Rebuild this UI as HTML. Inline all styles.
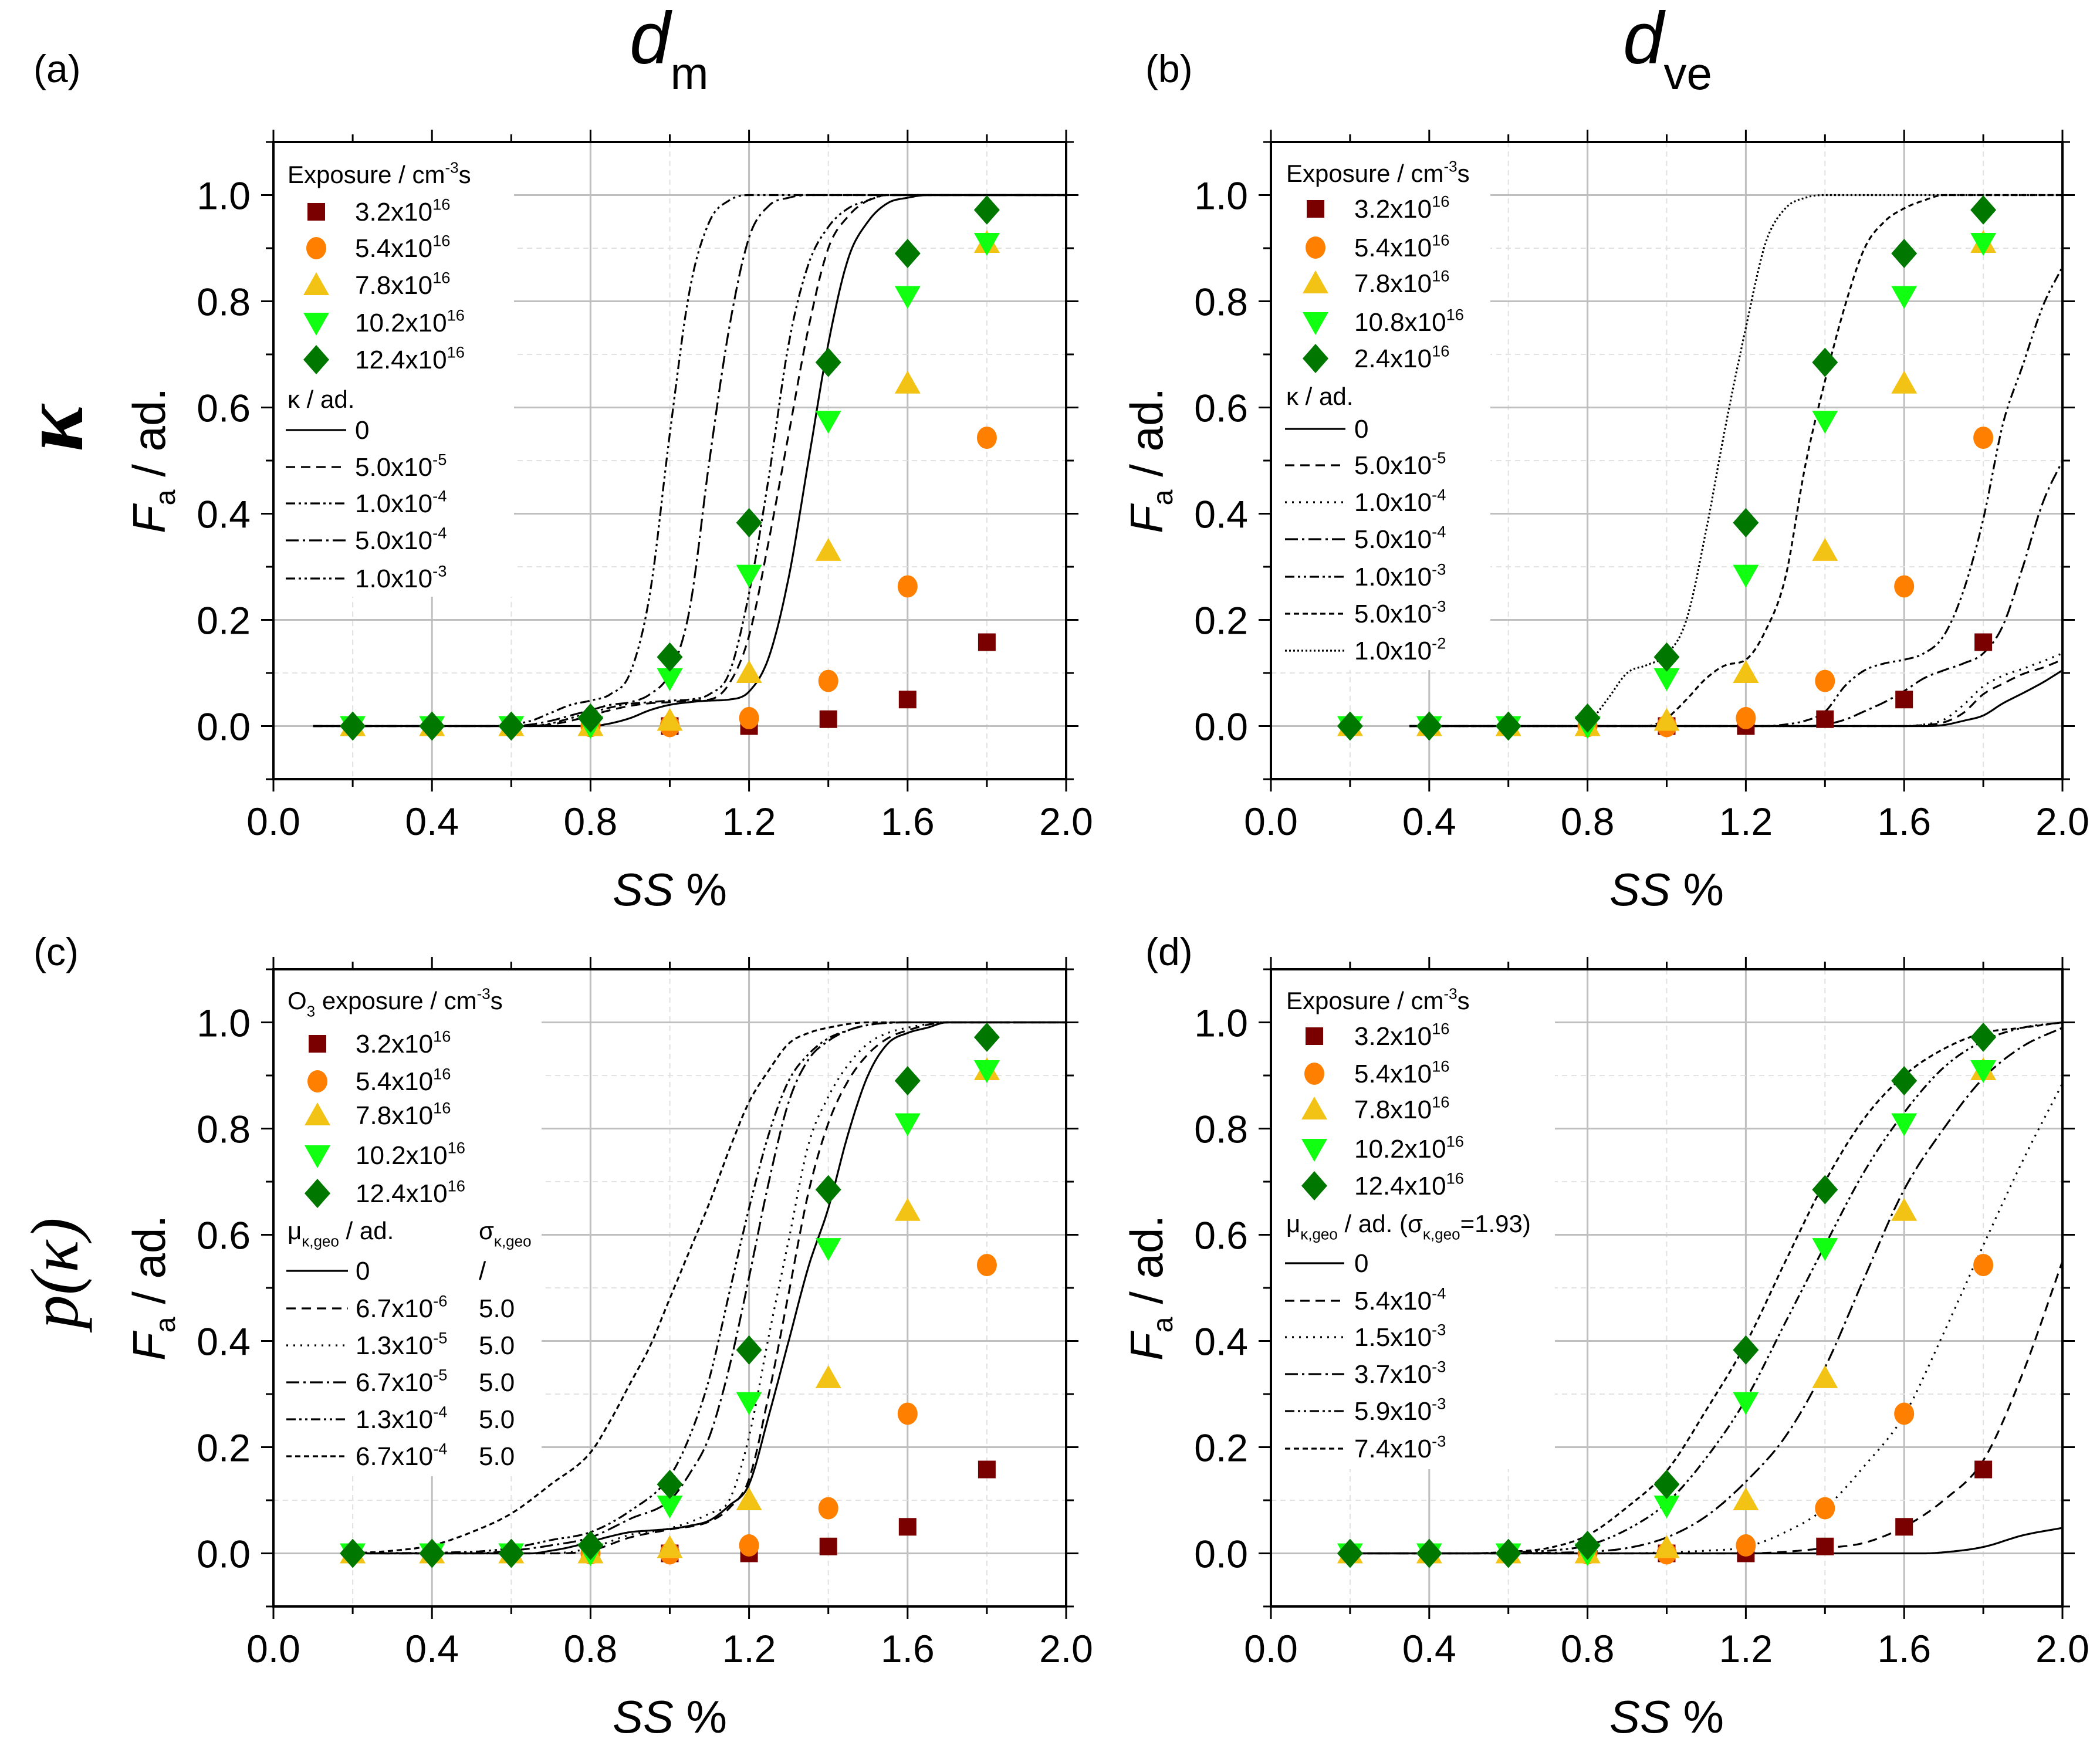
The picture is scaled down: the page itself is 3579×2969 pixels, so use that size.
<!DOCTYPE html>
<html><head><meta charset="utf-8"><title>Fa vs SS</title>
<style>html,body{margin:0;padding:0;background:#fff;}svg{display:block;}</style>
</head><body>
<svg id="fig" xmlns="http://www.w3.org/2000/svg" width="3579" height="2969" viewBox="0 0 3579 2969">
<rect x="0" y="0" width="3579" height="2969" fill="#fff"/>
</svg>
<script>
// ---- measured data (shared by all panels) ----
const ssX = [0.2,0.4,0.6,0.8,1.0,1.2,1.4,1.6,1.8];
const exp32 = [0,0,0,0,0,0,0.013,0.05,0.158];
const exp54 = [0,0,0,0,0,0.015,0.085,0.263,0.543];
const exp78 = [0,0,0,0,0.01,0.1,0.33,0.645,0.91];
const exp102 = [0,0,0,0,0.09,0.285,0.575,0.81,0.91];
const exp124 = [0,0,0,0.015,0.13,0.383,0.685,0.89,0.972];
const xTicks = [0,0.4,0.8,1.2,1.6,2.0];
const xTickLabels = ["0.0","0.4","0.8","1.2","1.6","2.0"];
const yTicks = [0,0.2,0.4,0.6,0.8,1.0];
const yTickLabels = ["0.0","0.2","0.4","0.6","0.8","1.0"];

// panel (a) kappa curves
const aK0x=[0.1,0.8,0.85,0.9,0.95,1.0,1.05,1.1,1.15,1.2,1.25,1.3,1.35,1.4,1.45,1.5,1.55,1.6,1.65,2.0];
const aK0y=[0,0,0.005,0.015,0.03,0.04,0.045,0.048,0.05,0.065,0.13,0.28,0.5,0.72,0.88,0.95,0.985,0.995,1,1];
const aK1x=[0.1,0.65,0.7,0.75,0.8,0.85,0.9,0.95,1.0,1.05,1.1,1.15,1.2,1.25,1.3,1.35,1.4,1.45,1.5,1.55,2.0];
const aK1y=[0,0,0.003,0.01,0.02,0.03,0.038,0.043,0.045,0.048,0.05,0.08,0.17,0.35,0.55,0.75,0.9,0.96,0.99,1,1];
const aK2x=[0.1,0.65,0.7,0.75,0.8,0.85,0.9,0.95,1.0,1.05,1.1,1.15,1.2,1.25,1.3,1.35,1.4,1.45,1.5,1.55,2.0];
const aK2y=[0,0,0.005,0.015,0.025,0.035,0.042,0.045,0.048,0.05,0.06,0.1,0.25,0.47,0.72,0.87,0.94,0.975,0.99,1,1];
const aK3x=[0.1,0.6,0.65,0.7,0.75,0.8,0.85,0.9,0.95,1.0,1.05,1.1,1.15,1.2,1.25,1.3,1.35,2.0];
const aK3y=[0,0,0.003,0.01,0.02,0.03,0.04,0.045,0.06,0.1,0.22,0.5,0.75,0.92,0.98,0.995,1,1];
const aK4x=[0.1,0.55,0.6,0.65,0.7,0.75,0.8,0.85,0.9,0.95,1.0,1.05,1.1,1.15,1.2,2.0];
const aK4y=[0,0,0.003,0.01,0.025,0.04,0.048,0.06,0.1,0.25,0.55,0.82,0.95,0.99,1,1];
// panel (b)
const bK0x=[0.35,1.65,1.7,1.75,1.8,1.85,1.9,1.95,2.0];
const bK0y=[0,0,0.002,0.01,0.02,0.043,0.062,0.082,0.105];
const bK1x=[0.35,1.6,1.65,1.7,1.75,1.8,1.85,1.9,1.95,2.0];
const bK1y=[0,0,0.002,0.007,0.025,0.06,0.08,0.098,0.11,0.125];
const bK2x=[0.35,1.6,1.65,1.7,1.75,1.8,1.85,1.9,1.95,2.0];
const bK2y=[0,0,0.003,0.012,0.04,0.075,0.095,0.108,0.122,0.137];
const bK3x=[0.35,1.35,1.4,1.45,1.5,1.55,1.6,1.65,1.7,1.75,1.8,1.85,1.9,1.95,2.0];
const bK3y=[0,0,0.003,0.012,0.028,0.045,0.066,0.09,0.105,0.118,0.137,0.19,0.3,0.42,0.5];
const bK4x=[0.35,1.25,1.3,1.35,1.4,1.45,1.5,1.55,1.6,1.65,1.7,1.75,1.8,1.85,1.9,1.95,2.0];
const bK4y=[0,0,0.003,0.01,0.027,0.075,0.105,0.118,0.125,0.137,0.17,0.255,0.39,0.57,0.68,0.79,0.865];
const bK5x=[0.35,0.95,1.0,1.05,1.1,1.15,1.2,1.25,1.3,1.35,1.4,1.45,1.5,1.55,1.6,1.65,1.7,2.0];
const bK5y=[0,0,0.015,0.05,0.09,0.115,0.125,0.18,0.28,0.49,0.65,0.79,0.9,0.95,0.975,0.99,1,1];
const bK6x=[0.35,0.78,0.8,0.85,0.9,0.95,1.0,1.05,1.1,1.15,1.2,1.25,1.3,1.35,1.4,2.0];
const bK6y=[0,0,0.005,0.05,0.1,0.115,0.135,0.2,0.37,0.57,0.75,0.91,0.975,0.995,1,1];
// panel (c)
const cK0x=[0.2,0.65,0.7,0.75,0.8,0.85,0.9,0.95,1.0,1.05,1.1,1.15,1.2,1.25,1.3,1.35,1.4,1.45,1.5,1.55,1.6,1.65,1.7,2.0];
const cK0y=[0,0,0.005,0.012,0.022,0.032,0.04,0.043,0.046,0.052,0.062,0.09,0.13,0.26,0.4,0.54,0.65,0.79,0.9,0.96,0.98,0.99,1,1];
const cK1x=[0.2,0.7,0.8,0.9,1.0,1.1,1.15,1.2,1.25,1.3,1.35,1.4,1.45,1.5,1.55,1.6,1.7,2.0];
const cK1y=[0,0,0.005,0.03,0.045,0.06,0.085,0.14,0.3,0.49,0.68,0.81,0.89,0.94,0.97,0.985,1,1];
const cK2x=[0.2,0.7,0.8,0.9,1.0,1.1,1.15,1.2,1.25,1.3,1.35,1.4,1.45,1.5,1.55,1.6,1.7,2.0];
const cK2y=[0,0,0.01,0.035,0.047,0.075,0.1,0.22,0.41,0.59,0.77,0.86,0.92,0.96,0.98,0.99,1,1];
const cK3x=[0.2,0.5,0.6,0.7,0.8,0.9,1.0,1.05,1.1,1.15,1.2,1.25,1.3,1.35,1.4,1.45,1.5,1.6,2.0];
const cK3y=[0,0,0.005,0.015,0.03,0.065,0.1,0.15,0.22,0.35,0.52,0.7,0.85,0.93,0.965,0.985,0.995,1,1];
const cK4x=[0.2,0.5,0.6,0.7,0.8,0.9,1.0,1.05,1.1,1.15,1.2,1.25,1.3,1.35,1.4,1.45,1.5,1.6,2.0];
const cK4y=[0,0.003,0.01,0.025,0.04,0.08,0.145,0.22,0.33,0.49,0.65,0.79,0.89,0.94,0.97,0.985,0.995,1,1];
const cK5x=[0.2,0.3,0.4,0.5,0.6,0.7,0.8,0.85,0.9,0.95,1.0,1.05,1.1,1.15,1.2,1.25,1.3,1.35,1.4,1.5,2.0];
const cK5y=[0,0.005,0.015,0.04,0.075,0.13,0.19,0.25,0.32,0.39,0.48,0.57,0.66,0.76,0.85,0.91,0.96,0.98,0.99,1,1];
// panel (d)
const dK0x=[0.2,1.65,1.7,1.8,1.9,2.0];
const dK0y=[0,0,0.002,0.012,0.034,0.048];
const dK1x=[0.2,1.2,1.3,1.4,1.5,1.6,1.7,1.8,1.9,2.0];
const dK1y=[0,0,0.003,0.01,0.02,0.05,0.1,0.175,0.34,0.55];
const dK2x=[0.2,0.9,1.0,1.1,1.2,1.3,1.4,1.5,1.6,1.7,1.8,1.9,2.0];
const dK2y=[0,0,0.002,0.005,0.012,0.04,0.085,0.165,0.26,0.415,0.58,0.74,0.885];
const dK3x=[0.2,0.6,0.7,0.8,0.9,1.0,1.1,1.2,1.3,1.4,1.5,1.6,1.7,1.8,1.9,2.0];
const dK3y=[0,0,0.001,0.003,0.01,0.03,0.07,0.135,0.22,0.35,0.52,0.685,0.8,0.895,0.955,0.99];
const dK4x=[0.2,0.5,0.6,0.7,0.8,0.9,1.0,1.1,1.2,1.3,1.4,1.5,1.6,1.7,1.8,1.9,2.0];
const dK4y=[0,0,0.002,0.005,0.015,0.045,0.095,0.18,0.29,0.435,0.58,0.72,0.83,0.915,0.965,0.99,1];
const dK5x=[0.2,0.5,0.6,0.7,0.8,0.9,1.0,1.1,1.2,1.3,1.4,1.5,1.6,1.7,1.8,1.9,2.0];
const dK5y=[0,0,0.003,0.01,0.034,0.087,0.155,0.27,0.395,0.55,0.7,0.82,0.9,0.95,0.98,0.99,1];

const NS="http://www.w3.org/2000/svg";
const svg=document.getElementById('fig');
const NARROW='"Liberation Sans Narrow","Liberation Sans",sans-serif';
const SANS='"Liberation Sans",sans-serif';
function mk(tag,attrs,parent){const e=document.createElementNS(NS,tag);for(const k in attrs)e.setAttribute(k,attrs[k]);(parent||svg).appendChild(e);return e;}

const DASH={solid:null,dashed:"16 10",dotted:"3 9",dashdot:"22 7 4 7",dashdotdot:"16 6 4 6 4 6",shortdash:"9 6",shortdot:"3 4"};
const COL={sq:"#7a0000",ci:"#ff8000",up:"#f2c314",dn:"#11ff11",di:"#007800"};

function rich(parent,x,y,parts,size,font,anchor,extra,subShift){
  const t=mk('text',Object.assign({x:x,y:y,'font-size':size,'font-family':font,fill:'#000','text-anchor':anchor||'start'},extra||{}),parent);
  let shift=0;
  parts.forEach(p=>{
    const ts=document.createElementNS(NS,'tspan');
    let target=0,fs=size;
    if(p[1]==='sup'){target=-0.42*size;fs=0.62*size;}
    else if(p[1]==='sub'){target=(subShift||0.3)*size;fs=0.62*size;}
    ts.setAttribute('dy',(target-shift).toFixed(1));
    ts.setAttribute('font-size',fs);
    if(p[2])ts.setAttribute('font-style',p[2]);
    shift=target;
    ts.textContent=p[0];
    t.appendChild(ts);
  });
  return t;
}

function monotone(xs,ys){
  const n=xs.length,d=[],m=[];
  for(let i=0;i<n-1;i++)d.push((ys[i+1]-ys[i])/(xs[i+1]-xs[i]));
  m[0]=d[0];m[n-1]=d[n-2];
  for(let i=1;i<n-1;i++){m[i]=(d[i-1]*d[i]<=0)?0:(d[i-1]+d[i])/2;}
  for(let i=0;i<n-1;i++){
    if(d[i]===0){m[i]=0;m[i+1]=0;continue;}
    const a=m[i]/d[i],b=m[i+1]/d[i],s=a*a+b*b;
    if(s>9){const t=3/Math.sqrt(s);m[i]=t*a*d[i];m[i+1]=t*b*d[i];}
  }
  const out=[];
  for(let i=0;i<n-1;i++){
    const h=xs[i+1]-xs[i];
    for(let k=0;k<16;k++){
      const t=k/16,t2=t*t,t3=t2*t;
      const y=(2*t3-3*t2+1)*ys[i]+(t3-2*t2+t)*h*m[i]+(-2*t3+3*t2)*ys[i+1]+(t3-t2)*h*m[i+1];
      out.push([xs[i]+t*h,y]);
    }
  }
  out.push([xs[n-1],ys[n-1]]);
  return out;
}

function marker(parent,shape,cx,cy){
  let e;
  if(shape==='sq'){e=mk('rect',{x:cx-15,y:cy-15,width:30,height:30,fill:COL.sq},parent);}
  else if(shape==='ci'){e=mk('ellipse',{cx:cx,cy:cy,rx:17,ry:19,fill:COL.ci},parent);}
  else if(shape==='up'){e=mk('polygon',{points:`${cx-22},${cy+17} ${cx+22},${cy+17} ${cx},${cy-22}`,fill:COL.up},parent);}
  else if(shape==='dn'){e=mk('polygon',{points:`${cx-22},${cy-17} ${cx+22},${cy-17} ${cx},${cy+22}`,fill:COL.dn},parent);}
  else {e=mk('polygon',{points:`${cx},${cy-25} ${cx+22},${cy} ${cx},${cy+25} ${cx-22},${cy}`,fill:COL.di},parent);}
  return e;
}

const seriesList=[['sq',exp32,'exposure-3.2e16'],['ci',exp54,'exposure-5.4e16'],['up',exp78,'exposure-7.8e16'],['dn',exp102,'exposure-10.2e16'],['di',exp124,'exposure-12.4e16']];

function panel(cfg){
  const g=mk('g',{});
  
  
  const L=cfg.L,R=cfg.R,T=cfg.T,B=cfg.B;
  const sx=v=>L+(v/2)*(R-L);
  const sy=v=>B-((v+0.1)/1.2)*(B-T);
  const grid=mk('g',{},g);
  
  
  for(let i=1;i<10;i++){const v=i*0.2;const major=(i%2===0);
    mk('line',{x1:sx(v),x2:sx(v),y1:T,y2:B,stroke:major?'#bfbfbf':'#e2e2e2','stroke-width':major?3:2,'stroke-dasharray':major?'none':'9 7'},grid);}
  for(let i=0;i<=10;i++){const v=i*0.1;const major=(i%2===0);
    mk('line',{x1:L,x2:R,y1:sy(v),y2:sy(v),stroke:major?'#bfbfbf':'#e2e2e2','stroke-width':major?3:2,'stroke-dasharray':major?'none':'9 7'},grid);}
  const lbg=mk('rect',{x:L+2,y:T+2,width:cfg.legW,height:cfg.legH,fill:'#fff'},g);
  
  
  const cp=mk('clipPath',{id:'clip-'+cfg.id},g);
  mk('rect',{x:L,y:T,width:R-L,height:B-T},cp);
  const cg=mk('g',{'clip-path':`url(#clip-${cfg.id})`},g);
  
  
  cfg.curves.forEach((c)=>{
    const pts=monotone(c.x,c.y).map(p=>sx(p[0]).toFixed(1)+','+sy(p[1]).toFixed(1)).join(' ');
    const a={points:pts,fill:'none',stroke:'#000','stroke-width':3.2,'stroke-linejoin':'round'};
    if(DASH[c.s])a['stroke-dasharray']=DASH[c.s];
    const pl=mk('polyline',a,cg);
    
    
  });
  seriesList.forEach(sr=>{
    const mg=mk('g',{},g);
    
    
    ssX.forEach((xv,i)=>{
      const m=marker(mg,sr[0],sx(xv),sy(sr[1][i]));
      
      
    });
  });
  const lg=mk('g',{},g);
  
  
  const lt=rich(lg,cfg.legTitle.x,cfg.legTitle.y,cfg.legTitle.parts,42,NARROW);
  
  
  cfg.expLabels.forEach((lab,i)=>{
    const y=cfg.expRows[i];
    const m=marker(lg,seriesList[i][0],cfg.mx,y);
    
    
    const t=rich(lg,cfg.tx,y+15,[[lab,'n'],['16','sup']],44,NARROW);
    
    
  });
  const kt=rich(lg,cfg.kTitle.x,cfg.kTitle.y,cfg.kTitle.parts,42,NARROW);
  
  
  if(cfg.sigTitle){
    const st=rich(lg,cfg.sigTitle.x,cfg.sigTitle.y,cfg.sigTitle.parts,42,NARROW);
    
    
  }
  cfg.curves.forEach((c,i)=>{
    const y=cfg.lineRows[i];
    const a={x1:cfg.lx1,x2:cfg.lx2,y1:y,y2:y,stroke:'#000','stroke-width':3.2};
    if(DASH[c.s])a['stroke-dasharray']=DASH[c.s];
    const ln=mk('line',a,lg);
    
    
    const parts=c.exp?[[c.lab,'n'],[c.exp,'sup']]:[[c.lab,'n']];
    const t=rich(lg,cfg.tx,y+15,parts,44,NARROW);
    
    
    if(c.sig){
      const st=rich(lg,cfg.sigX,y+15,[[c.sig,'n']],44,NARROW);
      
      
    }
  });
  const ax=mk('g',{},g);
  
  
  mk('rect',{x:L,y:T,width:R-L,height:B-T,fill:'none',stroke:'#000','stroke-width':4},ax);
  for(let i=0;i<=10;i++){const v=i*0.2;const len=(i%2===0)?21:13;
    mk('line',{x1:sx(v),x2:sx(v),y1:B,y2:B+len,stroke:'#000','stroke-width':3},ax);
    mk('line',{x1:sx(v),x2:sx(v),y1:T,y2:T-len,stroke:'#000','stroke-width':3},ax);}
  for(let i=-1;i<=11;i++){const v=i*0.1;const len=(i%2===0)?21:13;
    mk('line',{x1:L,x2:L-len,y1:sy(v),y2:sy(v),stroke:'#000','stroke-width':3},ax);
    mk('line',{x1:R,x2:R+len,y1:sy(v),y2:sy(v),stroke:'#000','stroke-width':3},ax);}
  xTicks.forEach((v,i)=>{
    const t=mk('text',{x:sx(v),y:B+95,'font-size':66,'font-family':NARROW,'text-anchor':'middle',fill:'#000'},ax);
    t.textContent=xTickLabels[i];
    
    
  });
  yTicks.forEach((v,i)=>{
    const t=mk('text',{x:L-39,y:sy(v)+24,'font-size':66,'font-family':NARROW,'text-anchor':'end',fill:'#000'},ax);
    t.textContent=yTickLabels[i];
    
    
  });
  const xt=rich(g,(L+R)/2,B+215,[['SS','n','italic'],[' %','n']],78,SANS,'middle');
  
  
  const yc=(T+B)/2, yx=L-185;
  const yt=rich(g,yx,yc,[['F','n','italic'],['a','sub'],[' / ad.','n']],78,SANS,'middle',{transform:`rotate(-90 ${yx} ${yc})`},0.22);
  
  
  const pl=mk('text',{x:cfg.plx,y:cfg.ply,'font-size':66,'font-family':NARROW,fill:'#000'},g);
  pl.textContent='('+cfg.id+')';
  
  
}

const rowTop={T:242,B:1328}, rowBot={T:1652,B:2738};
const colA={L:466,R:1817}, colB={L:2166,R:3515};
const expStd=["3.2x10","5.4x10","7.8x10","10.2x10","12.4x10"];

panel({id:'a',L:colA.L,R:colA.R,T:rowTop.T,B:rowTop.B,legW:408,legH:773,plx:57,ply:140,
  legTitle:{x:490,y:312,parts:[['Exposure / cm','n'],['-3','sup'],['s','n']]},
  expLabels:expStd,expRows:[361,423,486,550,613],mx:539,tx:605,
  kTitle:{x:490,y:695,parts:[['κ / ad.','n']]},
  lineRows:[733,796,858,921,986],lx1:487,lx2:590,
  curves:[{name:'kappa-0',x:aK0x,y:aK0y,s:'solid',lab:'0'},
          {name:'kappa-5.0e-5',x:aK1x,y:aK1y,s:'dashed',lab:'5.0x10',exp:'-5'},
          {name:'kappa-1.0e-4',x:aK2x,y:aK2y,s:'dashdotdot',lab:'1.0x10',exp:'-4'},
          {name:'kappa-5.0e-4',x:aK3x,y:aK3y,s:'dashdot',lab:'5.0x10',exp:'-4'},
          {name:'kappa-1.0e-3',x:aK4x,y:aK4y,s:'dashdotdot',lab:'1.0x10',exp:'-3'}]});

panel({id:'b',L:colB.L,R:colB.R,T:rowTop.T,B:rowTop.B,legW:372,legH:898,plx:1952,ply:140,
  legTitle:{x:2192,y:310,parts:[['Exposure / cm','n'],['-3','sup'],['s','n']]},
  expLabels:["3.2x10","5.4x10","7.8x10","10.8x10","2.4x10"],expRows:[356,422,483,549,611],mx:2242,tx:2308,
  kTitle:{x:2192,y:690,parts:[['κ / ad.','n']]},
  lineRows:[731,793,856,919,983,1046,1109],lx1:2190,lx2:2293,
  curves:[{name:'kappa-0',x:bK0x,y:bK0y,s:'solid',lab:'0'},
          {name:'kappa-5.0e-5',x:bK1x,y:bK1y,s:'dashed',lab:'5.0x10',exp:'-5'},
          {name:'kappa-1.0e-4',x:bK2x,y:bK2y,s:'dotted',lab:'1.0x10',exp:'-4'},
          {name:'kappa-5.0e-4',x:bK3x,y:bK3y,s:'dashdot',lab:'5.0x10',exp:'-4'},
          {name:'kappa-1.0e-3',x:bK4x,y:bK4y,s:'dashdotdot',lab:'1.0x10',exp:'-3'},
          {name:'kappa-5.0e-3',x:bK5x,y:bK5y,s:'shortdash',lab:'5.0x10',exp:'-3'},
          {name:'kappa-1.0e-2',x:bK6x,y:bK6y,s:'shortdot',lab:'1.0x10',exp:'-2'}]});

panel({id:'c',L:colA.L,R:colA.R,T:rowBot.T,B:rowBot.B,legW:455,legH:862,plx:57,ply:1645,
  legTitle:{x:490,y:1720,parts:[['O','n'],['3','sub'],[' exposure / cm','n'],['-3','sup'],['s','n']]},
  expLabels:expStd,expRows:[1779,1843,1901,1969,2034],mx:541,tx:606,
  kTitle:{x:490,y:2112,parts:[['μ','n'],['κ,geo','sub'],[' / ad.','n']]},
  sigTitle:{x:816,y:2112,parts:[['σ','n'],['κ,geo','sub']]},sigX:816,
  lineRows:[2166,2230,2293,2356,2419,2482],lx1:488,lx2:593,
  curves:[{name:'mu-0',x:cK0x,y:cK0y,s:'solid',lab:'0',sig:'/'},
          {name:'mu-6.7e-6',x:cK1x,y:cK1y,s:'dashed',lab:'6.7x10',exp:'-6',sig:'5.0'},
          {name:'mu-1.3e-5',x:cK2x,y:cK2y,s:'dotted',lab:'1.3x10',exp:'-5',sig:'5.0'},
          {name:'mu-6.7e-5',x:cK3x,y:cK3y,s:'dashdot',lab:'6.7x10',exp:'-5',sig:'5.0'},
          {name:'mu-1.3e-4',x:cK4x,y:cK4y,s:'dashdotdot',lab:'1.3x10',exp:'-4',sig:'5.0'},
          {name:'mu-6.7e-4',x:cK5x,y:cK5y,s:'shortdash',lab:'6.7x10',exp:'-4',sig:'5.0'}]});

panel({id:'d',L:colB.L,R:colB.R,T:rowBot.T,B:rowBot.B,legW:482,legH:850,plx:1952,ply:1645,
  legTitle:{x:2192,y:1720,parts:[['Exposure / cm','n'],['-3','sup'],['s','n']]},
  expLabels:expStd,expRows:[1766,1830,1891,1958,2021],mx:2240,tx:2308,
  kTitle:{x:2192,y:2100,parts:[['μ','n'],['κ,geo','sub'],[' / ad. (σ','n'],['κ,geo','sub'],['=1.93)','n']]},
  lineRows:[2153,2217,2279,2342,2405,2469],lx1:2190,lx2:2291,
  curves:[{name:'mu-0',x:dK0x,y:dK0y,s:'solid',lab:'0'},
          {name:'mu-5.4e-4',x:dK1x,y:dK1y,s:'dashed',lab:'5.4x10',exp:'-4'},
          {name:'mu-1.5e-3',x:dK2x,y:dK2y,s:'dotted',lab:'1.5x10',exp:'-3'},
          {name:'mu-3.7e-3',x:dK3x,y:dK3y,s:'dashdot',lab:'3.7x10',exp:'-3'},
          {name:'mu-5.9e-3',x:dK4x,y:dK4y,s:'dashdotdot',lab:'5.9x10',exp:'-3'},
          {name:'mu-7.4e-3',x:dK5x,y:dK5y,s:'shortdash',lab:'7.4x10',exp:'-3'}]});

const ct1=rich(svg,1073,108,[['d','n','italic'],['m','n']],125,SANS,'start');
ct1.lastChild.setAttribute('dy','44');ct1.lastChild.setAttribute('font-size','78');


const ct2=rich(svg,2766,108,[['d','n','italic'],['ve','n']],125,SANS,'start');
ct2.lastChild.setAttribute('dy','44');ct2.lastChild.setAttribute('font-size','78');


const r1=mk('text',{x:0,y:0,'font-size':150,'font-family':'"Liberation Serif",serif','font-style':'italic','font-weight':'bold','text-anchor':'middle',transform:'translate(140 730) rotate(-90)',fill:'#000'});
r1.textContent='κ';


const r2=mk('text',{x:0,y:0,'font-size':115,'font-family':'"Liberation Serif",serif','font-style':'italic','text-anchor':'middle',transform:'translate(132 2170) rotate(-90)',fill:'#000'});
r2.textContent='p(κ)';


</script>
</body></html>
